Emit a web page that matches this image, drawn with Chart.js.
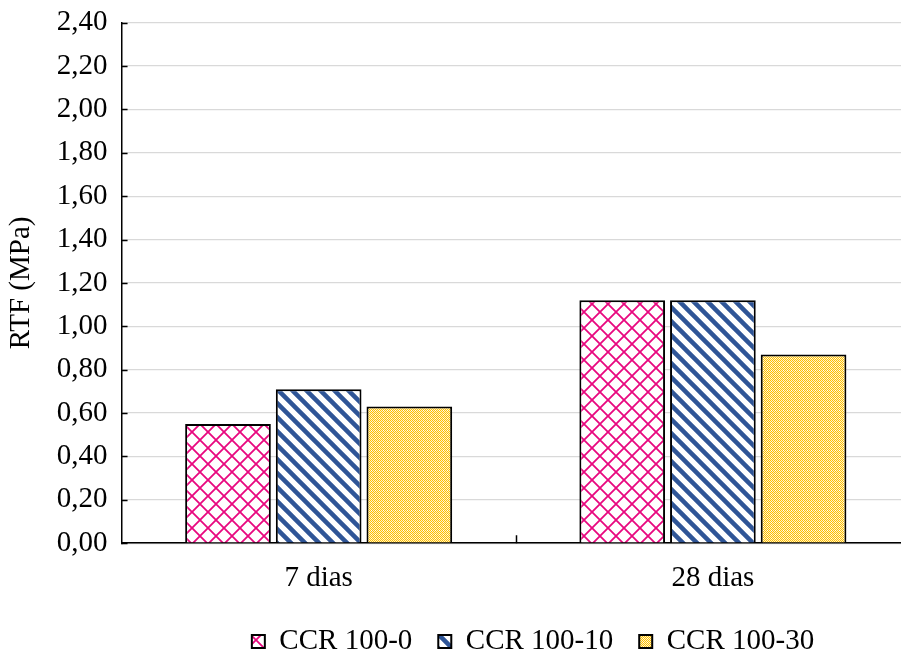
<!DOCTYPE html>
<html>
<head>
<meta charset="utf-8">
<script src="https://cdn.jsdelivr.net/npm/chart.js@4"></script>
<style>
  body { margin: 0; background: #fff; overflow: hidden; }
  #wrap { width: 910px; height: 657px; }
</style>
</head>
<body>
<div id="wrap"><canvas id="chart" width="910" height="657"></canvas></div>
<script>
const categories = ['7 dias', '28 dias'];
const seriesNames = ['CCR 100-0', 'CCR 100-10', 'CCR 100-30'];
const ccr100_0 = [0.55, 1.12];
const ccr100_10 = [0.71, 1.12];
const ccr100_30 = [0.63, 0.87];

const FONT = '"Liberation Serif", "Times New Roman", serif';
const FSIZE = 29;

// hatch fills like the excel pattern fills
function crossPattern(color) {
    const s = 16;
    const c = document.createElement('canvas');
    c.width = s; c.height = s;
    const g = c.getContext('2d');
    g.fillStyle = '#fff';
    g.fillRect(0, 0, s, s);
    g.strokeStyle = color;
    g.lineWidth = 1.8;
    g.beginPath();
    g.moveTo(0, 0); g.lineTo(s, s);
    g.moveTo(s, 0); g.lineTo(0, s);
    g.stroke();
    return g.createPattern(c, 'repeat');
}

function stripePattern(color) {
    const s = 14;
    const c = document.createElement('canvas');
    c.width = s; c.height = s;
    const g = c.getContext('2d');
    g.fillStyle = '#fff';
    g.fillRect(0, 0, s, s);
    g.strokeStyle = color;
    g.lineWidth = 4.5;
    g.beginPath();
    g.moveTo(-s, 0); g.lineTo(s, 2 * s);
    g.moveTo(0, 0); g.lineTo(s, s);
    g.moveTo(0, -s); g.lineTo(2 * s, s);
    g.stroke();
    return g.createPattern(c, 'repeat');
}

function checkPattern(color, light) {
    const c = document.createElement('canvas');
    c.width = 4; c.height = 4;
    const g = c.getContext('2d');
    g.fillStyle = light;
    g.fillRect(0, 0, 4, 4);
    g.fillStyle = color;
    for (let i = 0; i < 4; i++)
        for (let j = 0; j < 4; j++)
            if ((i + j) % 2 === 0) g.fillRect(i, j, 1, 1);
    g.fillStyle = '#fff';
    g.fillRect(3, 2, 1, 1);
    return g.createPattern(c, 'repeat');
}

const fills = [
    crossPattern('#e8087f'),
    stripePattern('#2f5597'),
    checkPattern('#ffc000', '#fff1c8')
];

// short black tick marks drawn inside the plot area
const innerTicks = {
    id: 'innerTicks',
    afterDraw(chart) {
        const ctx = chart.ctx;
        const x = chart.scales.x, y = chart.scales.y;
        ctx.save();
        ctx.strokeStyle = '#000';
        ctx.lineWidth = 1.5;
        ctx.beginPath();
        y.ticks.forEach((t, i) => {
            const py = Math.round(y.getPixelForTick(i)) + 0.5;
            ctx.moveTo(x.left, py);
            ctx.lineTo(x.left + 6, py);
        });
        for (let i = 1; i < categories.length; i++) {
            const px = Math.round((x.getPixelForValue(i - 1) + x.getPixelForValue(i)) / 2) + 0.5;
            ctx.moveTo(px, y.bottom);
            ctx.lineTo(px, y.bottom - 8);
        }
        ctx.stroke();
        ctx.restore();
    }
};

// push the legend right and up, as in the original
const legendShift = {
    id: 'legendShift',
    afterLayout(chart) {
        const lg = chart.legend;
        lg.left += 76;
        lg.right += 76;
        lg.top -= 13;
        lg.bottom -= 13;
    }
};

new Chart(document.getElementById('chart'), {
    type: 'bar',
    data: {
        labels: categories,
        datasets: [ccr100_0, ccr100_10, ccr100_30].map((vals, i) => ({
            label: seriesNames[i],
            data: vals,
            backgroundColor: fills[i],
            borderColor: '#000',
            borderWidth: 2,
            categoryPercentage: 0.69,
            barPercentage: 0.945
        }))
    },
    options: {
        responsive: false,
        animation: false,
        layout: { padding: { left: 4, right: 0, top: 0, bottom: -22 } },
        plugins: {
            legend: {
                position: 'bottom',
                labels: {
                    color: '#000',
                    font: { family: FONT, size: FSIZE },
                    boxWidth: 13,
                    boxHeight: 13,
                    padding: 26
                }
            },
            tooltip: { enabled: false }
        },
        scales: {
            x: {
                grid: { display: false, drawTicks: false },
                border: { color: '#000', width: 1.5 },
                ticks: { color: '#000', font: { family: FONT, size: FSIZE }, padding: 18 }
            },
            y: {
                min: 0,
                max: 2.4,
                grid: { color: '#d9d9d9', lineWidth: 1.3, drawTicks: false },
                border: { color: '#000', width: 1.5 },
                ticks: {
                    stepSize: 0.2,
                    color: '#000',
                    padding: 14,
                    font: { family: FONT, size: FSIZE, lineHeight: 0.6 },
                    callback: v => v.toFixed(2).replace('.', ',')
                },
                title: {
                    display: true,
                    text: 'RTF (MPa)',
                    color: '#000',
                    font: { family: FONT, size: FSIZE },
                    padding: { top: 0, bottom: 4 }
                }
            }
        }
    },
    plugins: [innerTicks, legendShift]
});
</script>
</body>
</html>
